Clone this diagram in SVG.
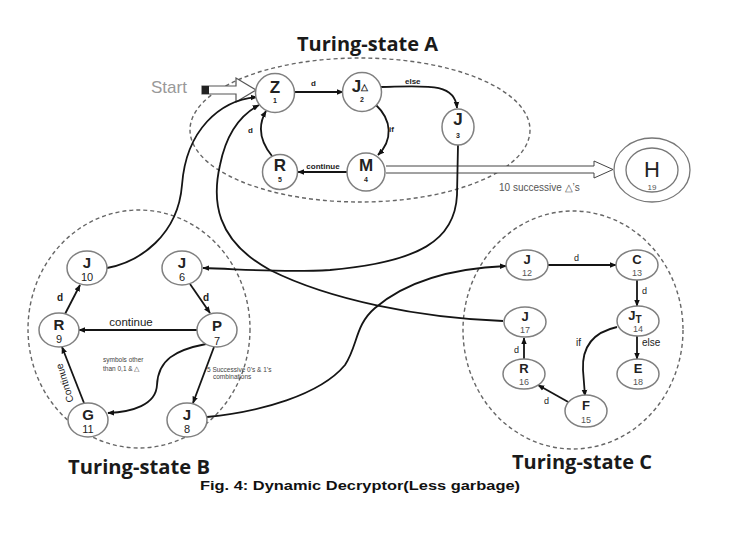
<svg xmlns="http://www.w3.org/2000/svg" width="735" height="546" viewBox="0 0 735 546">
<style>
text{font-family:"Liberation Sans","Open Sans",Arial,sans-serif;fill:#222}
.reg{fill:none;stroke:#666;stroke-width:1.4;stroke-dasharray:4 3}
.nd{fill:#fff;stroke:#808080;stroke-width:1.5}
.e{fill:none;stroke:#151515;stroke-width:1.8;marker-end:url(#ah)}
.la{font-size:17px;font-weight:bold;text-anchor:middle}
.na{font-size:7px;font-weight:bold;text-anchor:middle}
.lb{font-size:15px;font-weight:bold;text-anchor:middle}
.nb{font-size:11px;text-anchor:middle}
.lc{font-size:13px;font-weight:bold;text-anchor:middle}
.nc{font-size:9px;text-anchor:middle;fill:#555}
.title{font-family:"Open Sans","Liberation Sans",sans-serif;font-size:19px;font-weight:bold;fill:#1a1a1a}
.sm{font-size:8px;font-weight:bold}
.tiny{font-size:6.5px;fill:#444}
</style>
<defs>
<marker id="ah" viewBox="0 0 10 10" refX="9" refY="5" markerWidth="7" markerHeight="7" markerUnits="userSpaceOnUse" orient="auto"><path d="M0,1 L10,5 L0,9 z" fill="#111"/></marker>
</defs>

<!-- regions -->
<ellipse class="reg" cx="360" cy="130" rx="170" ry="72"/>
<ellipse class="reg" cx="139" cy="329" rx="111" ry="119"/>
<ellipse class="reg" cx="573" cy="330" rx="110" ry="119"/>

<text class="title" x="297" y="51" textLength="141" lengthAdjust="spacingAndGlyphs">Turing-state A</text>
<text class="title" x="68" y="474" textLength="142" lengthAdjust="spacingAndGlyphs">Turing-state B</text>
<text class="title" x="512" y="469" textLength="140" lengthAdjust="spacingAndGlyphs">Turing-state C</text>
<text x="200" y="490" font-size="12.5" font-weight="bold" textLength="320" lengthAdjust="spacingAndGlyphs" style="fill:#111">Fig. 4: Dynamic Decryptor(Less garbage)</text>

<!-- start -->
<g id="start">
<text x="151" y="93" font-size="17" style="fill:#999">Start</text>
<path d="M202,86 H236 V78 L256,90 L236,102 V94 H202 Z" fill="#fff" stroke="#555" stroke-width="1.2"/>
<rect x="202" y="86" width="7" height="8" fill="#222"/>
</g>

<!-- connectors -->
<g id="connectors">
<path class="e" d="M295,92 L343,92"/>
<path class="e" d="M381,87 C425,86 455,82 457,108"/>
<path class="e" d="M376,105 C392,120 393,140 378,155"/>
<path class="e" d="M347,172 L298,172"/>
<path class="e" d="M272,156 C259,140 258,125 266,111"/>
<path d="M386,166 H594 V161 L613,169.5 L594,178 V173 H386" fill="#fff" stroke="#444" stroke-width="1"/>

<path class="e" d="M190,284 L210,313"/>
<path class="e" d="M197,330 L79,330"/>
<path class="e" d="M65,314 L80,285"/>
<path class="e" d="M84,403 L62,347"/>
<path class="e" d="M206,344 C175,350 158,360 157,385 C156,405 132,412 108,413"/>
<path class="e" d="M214,347 L193,403"/>
<path class="e" d="M107,268 C140,262 178,235 182,185 C186,130 220,100 257,97"/>
<path class="e" d="M207,417 C260,412 320,395 345,365 C358,345 355,325 375,308 C410,278 460,268 506,266"/>
<path class="e" d="M458,145 L457,195 C455,240 420,262 330,270 C280,273 240,269 203,268"/>
<path class="e" d="M503,321 C420,318 330,300 270,270 C215,240 212,200 220,165 C226,135 240,115 259,105"/>

<path class="e" d="M548,265 L616,265"/>
<path class="e" d="M637,280 L637,306"/>
<path class="e" d="M637,336 L637,359"/>
<path class="e" d="M617,327 C590,333 582,350 583,370 L585,396"/>
<path class="e" d="M570,403 L538,385"/>
<path class="e" d="M524,360 L524,338"/>

<text class="sm" x="311" y="86">d</text>
<text class="sm" x="405" y="84">else</text>
<text class="sm" x="389" y="132">if</text>
<text class="sm" x="323" y="169" text-anchor="middle">continue</text>
<text class="sm" x="248" y="133">d</text>
<text x="499" y="191" font-size="10" style="fill:#555">10 successive  △’s</text>

<text x="203" y="301" font-size="10" font-weight="bold">d</text>
<text x="131" y="326" font-size="11.5" text-anchor="middle">continue</text>
<text x="57" y="301" font-size="10" font-weight="bold">d</text>
<text font-size="10" text-anchor="middle" transform="translate(68,382) rotate(-107)">Continue</text>
<text class="tiny" x="103" y="362">symbols other</text>
<text class="tiny" x="103" y="371">than 0,1 &amp; △</text>
<text class="tiny" x="207" y="372">5 Successive 0’s &amp; 1’s</text>
<text class="tiny" x="213" y="379">combinations</text>

<text x="574" y="261" font-size="9">d</text>
<text x="642" y="294" font-size="9">d</text>
<text x="642" y="346" font-size="10">else</text>
<text x="576" y="346" font-size="10">if</text>
<text x="544" y="404" font-size="9">d</text>
<text x="514" y="353" font-size="9">d</text>
</g>

<!-- Turing-state A nodes -->
<g id="n1"><circle class="nd" cx="275" cy="93" r="19.5"/><text class="la" x="275" y="93">Z</text><text class="na" x="275" y="103">1</text></g>
<g id="n2"><circle class="nd" cx="362" cy="92" r="19.5"/><text class="la" x="360" y="92">J<tspan font-size="9" dy="-2">△</tspan></text><text class="na" x="362" y="102">2</text></g>
<g id="n3"><ellipse class="nd" cx="458" cy="127" rx="16" ry="18"/><text class="la" x="458" y="125">J</text><text class="na" x="458" y="138">3</text></g>
<g id="n4"><circle class="nd" cx="366" cy="172" r="19"/><text class="la" x="366" y="171">M</text><text class="na" x="366" y="182">4</text></g>
<g id="n5"><circle class="nd" cx="280" cy="172" r="17.5"/><text class="la" x="280" y="171">R</text><text class="na" x="280" y="182">5</text></g>
<g id="n19"><ellipse cx="652" cy="170" rx="38" ry="32" fill="#fff" stroke="#777" stroke-width="1.3"/><ellipse cx="652" cy="170" rx="26" ry="22" fill="#fff" stroke="#777" stroke-width="1.3"/><text x="652" y="177" font-size="22" text-anchor="middle">H</text><text x="652" y="190" font-size="8" text-anchor="middle" style="fill:#555">19</text></g>

<!-- Turing-state B nodes -->
<g id="n10"><ellipse class="nd" cx="87" cy="268" rx="20" ry="17"/><text class="lb" x="87" y="268">J</text><text class="nb" x="87" y="281">10</text></g>
<g id="n6"><ellipse class="nd" cx="182" cy="268" rx="20" ry="17"/><text class="lb" x="182" y="268">J</text><text class="nb" x="182" y="281">6</text></g>
<g id="n9"><ellipse class="nd" cx="59" cy="330" rx="20" ry="17"/><text class="lb" x="59" y="330">R</text><text class="nb" x="59" y="343">9</text></g>
<g id="n7"><ellipse class="nd" cx="217" cy="330" rx="20" ry="17"/><text class="lb" x="217" y="331">P</text><text class="nb" x="217" y="345" font-size="13">7</text></g>
<g id="n11"><ellipse class="nd" cx="88" cy="420" rx="20" ry="17"/><text class="lb" x="88" y="420">G</text><text class="nb" x="88" y="433" font-size="12">11</text></g>
<g id="n8"><ellipse class="nd" cx="187" cy="420" rx="20" ry="17"/><text class="lb" x="187" y="420">J</text><text class="nb" x="187" y="433" font-size="12">8</text></g>

<!-- Turing-state C nodes -->
<g id="n12"><ellipse class="nd" cx="527" cy="265" rx="21" ry="15"/><text class="lc" x="527" y="264">J</text><text class="nc" x="527" y="276">12</text></g>
<g id="n13"><ellipse class="nd" cx="637" cy="265" rx="21" ry="15"/><text class="lc" x="637" y="264">C</text><text class="nc" x="637" y="276">13</text></g>
<g id="n14"><ellipse class="nd" cx="638" cy="321" rx="21" ry="15"/><text class="lc" x="635" y="320">J<tspan font-size="10" dy="3">T</tspan></text><text class="nc" x="638" y="332">14</text></g>
<g id="n17"><ellipse class="nd" cx="525" cy="322" rx="21" ry="15"/><text class="lc" x="525" y="321">J</text><text class="nc" x="525" y="333">17</text></g>
<g id="n16"><ellipse class="nd" cx="524" cy="374" rx="21" ry="15"/><text class="lc" x="524" y="373">R</text><text class="nc" x="524" y="385">16</text></g>
<g id="n18"><ellipse class="nd" cx="638" cy="374" rx="21" ry="15"/><text class="lc" x="638" y="373">E</text><text class="nc" x="638" y="385">18</text></g>
<g id="n15"><ellipse class="nd" cx="586" cy="411" rx="21" ry="16"/><text class="lc" x="586" y="410">F</text><text class="nc" x="586" y="423">15</text></g>
</svg>
